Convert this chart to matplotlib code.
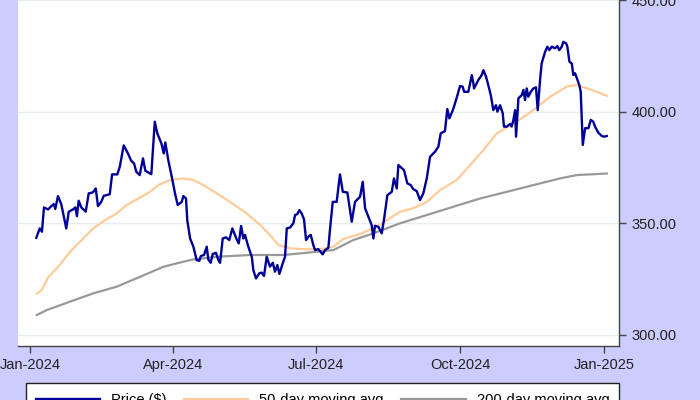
import numpy as np
import pandas as pd
import matplotlib
matplotlib.use('Agg')
import matplotlib.pyplot as plt
import matplotlib.dates as mdates

# 价格（按日计，从 2024-01-01 起的天数）
price_days = [4.0, 6.2, 7.6, 8.9, 11.5, 13.6, 15.1, 16.1, 17.8, 19.9, 21.7, 23.1, 24.7, 27.4, 28.9,
              29.9, 31.0, 32.7, 35.5, 37.4, 39.5, 40.8, 41.9, 43.3, 45.4, 47.0, 50.8, 52.3, 55.6,
              57.2, 59.7, 62.4, 64.5, 66.3, 67.7, 69.9, 72.0, 73.5, 77.3, 79.5, 81.1, 83.7, 85.2,
              86.2, 88.1, 90.3, 92.4, 94.1, 96.7, 97.7, 99.4, 100.2, 102.0, 104.1, 106.2, 107.9,
              108.8, 110.9, 112.6, 113.6, 115.1, 116.4, 118.5, 120.0, 121.1, 122.8, 124.9, 127.0,
              128.9, 130.6, 131.7, 133.0, 134.5, 135.9, 137.0, 139.1, 141.3, 142.3, 144.0, 146.1,
              147.6, 149.1, 150.8, 152.9, 154.7, 156.1, 157.6, 158.9, 161.0, 162.5, 163.6, 165.7,
              167.8, 168.9, 170.3, 171.6, 173.1, 174.6, 175.9, 177.8, 178.9, 180.5, 181.6, 183.7,
              186.5, 188.0, 190.1, 191.2, 192.9, 195.4, 197.5, 199.3, 202.2, 205.0, 207.1, 210.3,
              212.0, 213.5, 215.6, 217.7, 218.8, 219.8, 222.0, 224.1, 225.6, 227.7, 230.5, 231.9,
              233.7, 234.7, 238.3, 240.4, 242.6, 244.2, 246.4, 248.5, 250.6, 252.8, 254.9, 258.1,
              260.2, 261.7, 264.4, 265.9, 267.2, 269.7, 271.9, 274.0, 275.7, 276.6, 279.3, 281.5,
              282.5, 282.9, 285.7, 287.8, 288.9, 290.6, 292.0, 293.6, 295.2, 296.9, 297.8, 299.5,
              301.2, 302.0, 303.8, 305.9, 306.9, 308.0, 309.1, 309.7, 311.2, 313.3, 314.4, 315.4,
              316.5, 317.5, 319.1, 320.7, 322.4, 323.5, 325.0, 326.0, 328.2, 329.6, 330.9, 332.4,
              334.5, 336.0, 337.2, 338.8, 339.8, 341.6, 342.4, 343.7, 345.2, 346.2, 347.3, 348.8,
              350.0, 350.9, 352.2, 353.7, 355.8, 357.3, 358.9, 360.0, 362.1, 364.3, 365.8, 367.5]
price = [343.5, 347.7, 346.2, 357.1, 356.2, 357.7, 358.6, 356.4, 362.2, 358.6, 352.6, 347.7, 355.2,
         356.2, 357.1, 353.2, 360.1, 357.1, 355.2, 363.4, 363.7, 364.4, 365.6, 357.7, 359.6, 362.3,
         363.0, 371.9, 371.9, 375.3, 384.9, 381.3, 378.0, 376.8, 373.1, 371.6, 379.1, 373.5, 372.0,
         395.5, 390.3, 385.8, 381.3, 386.2, 378.3, 370.9, 363.4, 358.2, 359.6, 362.2, 361.1, 351.4,
         343.2, 339.5, 333.5, 333.2, 335.3, 335.8, 339.5, 333.8, 332.3, 336.2, 336.8, 333.5, 332.3,
         343.2, 343.7, 342.5, 347.7, 344.8, 342.8, 341.0, 348.8, 343.2, 344.8, 339.5, 335.0, 329.0,
         325.3, 327.6, 327.9, 326.4, 335.0, 330.6, 332.3, 328.3, 331.3, 327.3, 332.0, 335.0, 347.7,
         348.1, 350.0, 353.7, 354.1, 355.9, 354.4, 351.7, 342.5, 344.3, 344.8, 340.3, 338.0, 338.4,
         336.1, 338.0, 339.0, 347.7, 359.6, 359.6, 371.9, 364.1, 363.8, 350.7, 359.6, 361.9, 368.6,
         356.7, 352.9, 349.2, 343.2, 348.9, 348.4, 345.5, 351.9, 362.6, 364.1, 370.1, 365.6, 376.1,
         373.8, 367.9, 367.1, 365.3, 364.4, 360.4, 363.4, 370.1, 379.8, 382.1, 384.3, 390.3, 391.3,
         401.2, 397.0, 401.2, 406.3, 411.5, 411.2, 408.9, 408.9, 416.4, 412.7, 410.4, 414.2, 416.4,
         418.6, 415.6, 411.9, 407.4, 400.7, 402.9, 400.0, 402.9, 399.3, 393.3, 393.3, 394.5, 393.3,
         396.3, 400.7, 388.8, 406.0, 407.4, 409.7, 405.2, 410.4, 406.7, 408.9, 410.4, 410.9, 400.7,
         414.2, 421.6, 426.8, 429.1, 427.6, 429.1, 428.4, 429.4, 427.6, 429.1, 431.3, 430.6, 429.1,
         422.4, 421.6, 416.4, 417.2, 414.2, 411.9, 408.9, 385.1, 392.6, 392.6, 396.3, 395.5, 393.3,
         390.6, 389.1, 388.8, 389.1]

# 50日均线
ma50_days = [4.3, 7.5, 11.7, 18.0, 25.5, 32.9, 40.3, 47.8, 55.2, 61.6, 69.0, 76.5, 81.8, 89.2, 97.7,
             104.1, 110.4, 119.0, 127.4, 138.1, 146.6, 152.9, 158.2, 165.7, 176.3, 186.9, 193.3,
             199.6, 210.3, 220.9, 227.3, 235.8, 244.2, 252.8, 261.3, 271.9, 280.4, 288.9, 297.4,
             310.1, 320.7, 331.4, 342.0, 348.4, 356.9, 367.5]
ma50 = [318.6, 320.1, 326.0, 330.5, 337.2, 342.5, 347.7, 351.4, 354.4, 358.2, 361.1, 364.1, 367.1,
        369.4, 370.1, 369.4, 367.1, 363.4, 359.6, 354.4, 349.2, 344.8, 340.3, 338.8, 338.3, 338.6,
        339.5, 343.0, 345.2, 348.4, 351.4, 355.2, 356.7, 359.6, 364.9, 369.4, 376.1, 382.8, 390.3,
        395.5, 400.7, 406.7, 411.2, 411.9, 410.0, 407.1]

# 200日均线
ma200_days = [4.3, 10.6, 25.5, 40.3, 55.2, 70.1, 84.9, 97.7, 104.1, 119.0, 140.2, 161.4, 172.1,
              193.3, 206.0, 218.8, 235.8, 252.8, 269.7, 286.8, 303.8, 320.7, 337.7, 348.4, 367.5]
ma200 = [308.9, 311.1, 314.9, 318.6, 321.6, 326.0, 330.5, 332.8, 333.8, 335.0, 335.8, 335.8, 336.5,
         338.0, 342.5, 345.5, 350.0, 353.7, 357.4, 361.1, 364.1, 367.1, 370.1, 371.6, 372.3]

y_ticks = [300, 350, 400, 450]
x_ticks = ['2024-01-01', '2024-04-01', '2024-07-01', '2024-10-01', '2025-01-01']

plt.rcParams['font.family'] = ['Liberation Sans', 'DejaVu Sans']
plt.rcParams['font.size'] = 10.5

start = pd.Timestamp('2024-01-01')
to_dates = lambda d: start + pd.to_timedelta(np.array(d), unit='D')

fig = plt.figure(figsize=(7, 4), dpi=100)
fig.patch.set_facecolor('#ccccff')
ax = fig.add_axes([18.3 / 700, 54.3 / 400, 600.4 / 700, 356.8 / 400])
ax.set_facecolor('white')

ax.plot(to_dates(price_days), price, color='#000099', linewidth=1.7, label='Price ($)', zorder=4)
ax.plot(to_dates(ma50_days), ma50, color='#ffcc99', linewidth=1.6, label='50-day moving avg', zorder=3)
ax.plot(to_dates(ma200_days), ma200, color='#999999', linewidth=1.6, label='200-day moving avg', zorder=3)

ax.set_ylim(295.16, 455)
ax.set_xlim(start - pd.Timedelta(days=7.46), start + pd.Timedelta(days=375.1))
ax.set_yticks(y_ticks)
ax.yaxis.set_major_formatter(matplotlib.ticker.FormatStrFormatter('%.2f'))
ax.yaxis.tick_right()
ax.set_xticks(pd.to_datetime(x_ticks))
ax.xaxis.set_major_formatter(mdates.DateFormatter('%b-%Y'))
ax.tick_params(axis='both', length=5, width=1, color='#444444', labelcolor='#222222', pad=4)
ax.grid(axis='y', color='#e8eef0', linewidth=1)
ax.set_axisbelow(True)

for s in ['left', 'top']:
    ax.spines[s].set_visible(False)
for s in ['right', 'bottom']:
    ax.spines[s].set_color('#444444')
    ax.spines[s].set_linewidth(1)

leg = fig.legend(loc='upper left', bbox_to_anchor=(26 / 700, 1 - 383 / 400), borderaxespad=0,
                 ncol=3, handlelength=4.4, handletextpad=0.75, columnspacing=1.2, borderpad=0.7,
                 fancybox=False, framealpha=1, edgecolor='#222222')
leg.get_frame().set_linewidth(1)

plt.savefig('out.png', dpi=100)
